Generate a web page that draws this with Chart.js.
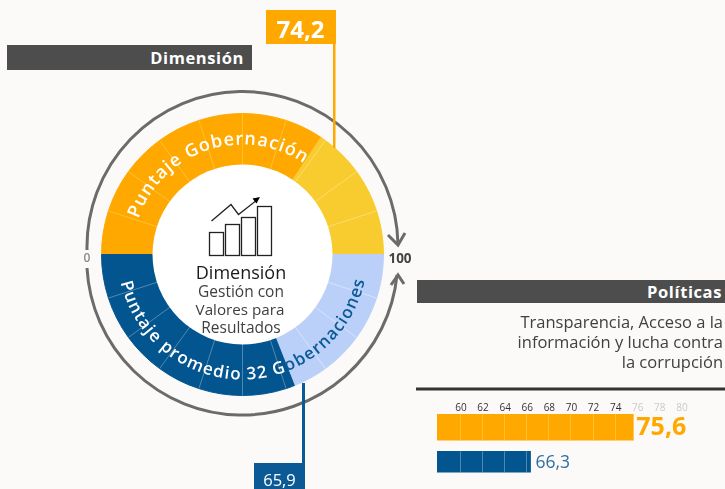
<!DOCTYPE html>
<html><head><meta charset="utf-8">
<script src="https://cdn.jsdelivr.net/npm/chart.js@4"></script>
<style>
html,body{margin:0;padding:0;background:#FBFAF8;width:725px;height:489px;overflow:hidden;font-family:"Open Sans",sans-serif}
canvas{position:absolute}
#ring{left:92px;top:104px}
#bars{left:437px;top:398px}
svg{position:absolute;left:0;top:0}
.box{position:absolute;box-sizing:border-box;color:#fff;white-space:nowrap}
.t{position:absolute;white-space:nowrap}
</style></head><body>
<canvas id="ring" width="301" height="301"></canvas>
<canvas id="bars" width="288" height="84"></canvas>
<svg width="725" height="489" viewBox="0 0 725 489">
  <defs>
    <path id="topArc" d="M132.5 254.5 A110 110 0 0 1 352.5 254.5"/>
    <path id="botArc" d="M117.5 254.5 A125 125 0 0 0 367.5 254.5"/>
  </defs>
  <circle cx="242.5" cy="254.5" r="90" fill="#fff"/>
  <g fill="none" stroke="#6B6B6B" stroke-width="3">
    <path d="M87 250 A155.5 155.5 0 0 1 398 244"/>
    <path d="M388 235 L398 245 L405 233"/>
    <path d="M87 268 A155.5 155.5 0 0 0 397 275"/>
    <path d="M391 285 L398 275 L404 284"/>
  </g>
  <g fill="none" stroke="#222" stroke-width="1.3">
    <rect x="209.5" y="232.5" width="14" height="23"/>
    <rect x="225.5" y="224.5" width="14" height="31"/>
    <rect x="241.5" y="217.5" width="14" height="38"/>
    <rect x="257.5" y="206.5" width="14" height="49"/>
    <path d="M211.500 221 L231 204.500 L238.500 214.500 L257 200"/>
  </g>
  <path d="M260 197 L252.500 198.500 L256.500 203.500 Z" fill="#000"/>
  <text font-family="Open Sans" font-weight="600" font-size="18" fill="#fff" letter-spacing="1"><textPath href="#topArc" startOffset="10.500%">Puntaje Gobernación</textPath></text>
  <text font-family="Open Sans" font-weight="600" font-size="17" fill="#fff" letter-spacing="1.200"><textPath href="#botArc" startOffset="7.200%">Puntaje promedio 32 G<tspan fill="#0B5A96">obernaciones</tspan></textPath></text>
  <g font-family="Open Sans" text-anchor="middle">
    <text x="241" y="279" font-size="18" fill="#1a1a1a">Dimensión</text>
    <text x="241" y="297" font-size="15.500" fill="#404040">Gestión con</text>
    <text x="240" y="315" font-size="15.200" fill="#404040">Valores para</text>
    <text x="241" y="333" font-size="15.500" fill="#404040">Resultados</text>
  </g>
  <text x="87" y="262" font-family="Open Sans" font-size="12" font-weight="600" fill="#8a8a8a" text-anchor="middle">0</text>
  <text x="400" y="263" font-family="Open Sans" font-size="13.500" font-weight="700" fill="#444" text-anchor="middle">100</text>
  <rect x="333" y="44" width="2.500" height="104" fill="#FFA800"/>
  <rect x="302" y="383" width="3" height="80" fill="#0B5A96"/>
  <rect x="416" y="387.500" width="309" height="3" fill="#333"/>
</svg>
<div class="box" style="left:265.500px;top:10px;width:70px;height:34px;background:#FFA800;text-align:center;font-weight:700;font-size:24px;line-height:37px">74,2</div>
<div class="box" style="left:254px;top:463px;width:51px;height:26px;background:#0B5A96;text-align:center;font-size:16.500px;line-height:33px">65,9</div>
<div class="box" style="left:7px;top:45px;width:245px;height:25px;background:#4D4D4D;text-align:right;padding-right:8px;font-weight:700;font-size:16.500px;line-height:25px;letter-spacing:.6px">Dimensión</div>
<div class="box" style="left:417px;top:280px;width:308px;height:23px;background:#4D4D4D;text-align:right;padding-right:3px;font-weight:700;font-size:16.500px;line-height:23px;letter-spacing:.6px">Políticas</div>
<div class="t" style="right:2px;top:312px;text-align:right;font-size:16.500px;line-height:20px;color:#404040">Transparencia, Acceso a la<br>información y lucha contra<br>la corrupción</div>
<script>
// gauge: top half runs 0→100 left to right, bottom half runs 100→0 right to left
const gaugeValues = [10,10,10,10,10,10,8.8,1.2,10,10,10, 10,10,10,8,2,10,10,10,10,10,10];
const gaugeColors = ['#FFA800','#FFA800','#FFA800','#FFA800','#FFA800','#FFA800','#FFA800','#F8CB2E','#F8CB2E','#F8CB2E','#F8CB2E',
  '#BBD0F8','#BBD0F8','#BBD0F8','#BBD0F8','#03558F','#03558F','#03558F','#03558F','#03558F','#03558F','#03558F'];
const gaugeTicks = ['', '#FFC02E','#FFC02E','#FFC02E','#FFC02E','#FFC02E','#FFC02E','', '#FBDC70','#FBDC70','#FBDC70',
  '', '#D6E3FB','#D6E3FB','#D6E3FB','', '#4F87AE','#4F87AE','#4F87AE','#4F87AE','#4F87AE','#4F87AE'];
const barLabels = ['Puntaje Gobernación','Puntaje promedio 32 Gobernaciones'];
const barValues = [75.6, 66.3];
const barValueText = ['75,6','66,3'];
const barTicks = [60,62,64,66,68,70,72,74,76,78,80];
const barColors = ['#FFA800','#03558F'];
const barSeps = ['#FFC02E','#4F87AE'];

new Chart(document.getElementById('ring'),{
  type:'doughnut',
  data:{labels:gaugeValues.map((v,i)=>String(i)),datasets:[{data:gaugeValues,backgroundColor:gaugeColors,borderColor:gaugeColors,borderWidth:1}]},
  options:{responsive:false,animation:false,rotation:-90,circumference:360,radius:141,cutout:90,
    plugins:{legend:{display:false},tooltip:{enabled:false}}},
  plugins:[{id:'ticks',afterDatasetsDraw(c){
    const x=c.ctx;
    c.getDatasetMeta(0).data.forEach((a,i)=>{
      if(!gaugeTicks[i])return;
      x.save();x.strokeStyle=gaugeTicks[i];x.lineWidth=1;x.beginPath();
      x.moveTo(a.x+Math.cos(a.startAngle)*a.innerRadius,a.y+Math.sin(a.startAngle)*a.innerRadius);
      x.lineTo(a.x+Math.cos(a.startAngle)*a.outerRadius,a.y+Math.sin(a.startAngle)*a.outerRadius);
      x.stroke();x.restore();
    });
  }}]
});

new Chart(document.getElementById('bars'),{
  type:'bar',
  data:{labels:barLabels,datasets:[
    {data:[barValues[0],null],backgroundColor:barColors[0],barThickness:26,grouped:false},
    {data:[null,barValues[1]],backgroundColor:barColors[1],barThickness:21,grouped:false}]},
  options:{indexAxis:'y',responsive:false,animation:false,layout:{padding:{left:0,right:0,top:12,bottom:3}},
    plugins:{legend:{display:false},tooltip:{enabled:false}},
    scales:{
      x:{position:'top',min:57.83,max:83.9,grid:{display:false,drawTicks:false},border:{display:false},
        afterBuildTicks(s){s.ticks=barTicks.map(v=>({value:v}));},
        ticks:{display:false}},
      y:{display:false,grid:{display:false}}
    }},
  plugins:[{id:'cells',afterDatasetsDraw(c){
    const x=c.ctx,s=c.scales.x;
    x.save();x.font='400 10px "Open Sans"';x.textAlign='center';x.textBaseline='middle';
    barTicks.forEach(t=>{x.fillStyle=t>=76?'#C9C9C9':'#333';x.fillText(String(t),s.getPixelForValue(t),c.chartArea.top-2);});
    x.restore();
    [0,1].forEach(d=>{
      const b=c.getDatasetMeta(d).data[d];
      x.save();x.strokeStyle=barSeps[d];x.lineWidth=1;
      barTicks.forEach(t=>{ if(t<barValues[d]){const p=Math.round(s.getPixelForValue(t))-.5;x.beginPath();x.moveTo(p,b.y-b.height/2);x.lineTo(p,b.y+b.height/2);x.stroke();}});
      x.restore();
      x.save();x.textBaseline='middle';
      if(d===0){x.font='700 25px "Open Sans"';x.fillStyle='#FFA800';}else{x.font='400 17.5px "Open Sans"';x.fillStyle='#2F6FA3';}
      x.fillText(barValueText[d],b.x+(d===0?3:5),b.y+1);x.restore();
    });
  }}]
});
</script>
</body></html>
